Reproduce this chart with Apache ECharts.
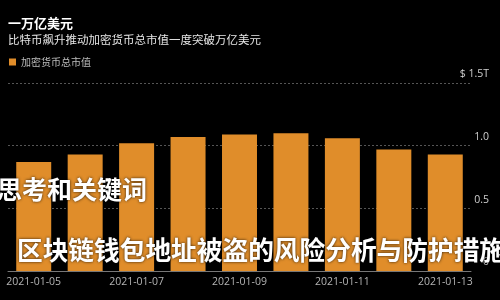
<!DOCTYPE html>
<html>
<head>
<meta charset="utf-8">
<script src="https://cdn.jsdelivr.net/npm/echarts@6/dist/echarts.min.js"></script>
<style>
html,body{margin:0;padding:0;background:#000;}
#chart{width:500px;height:300px;}
</style>
</head>
<body>
<div id="chart"></div>
<script>
const titleText = '一万亿美元';
const subtitleText = '比特币飙升推动加密货币总市值一度突破万亿美元';
const seriesName = '加密货币总市值';
const categories = ['2021-01-05','2021-01-06','2021-01-07','2021-01-08','2021-01-09','2021-01-10','2021-01-11','2021-01-12','2021-01-13'];
const marketCap = [0.87, 0.93, 1.02, 1.07, 1.09, 1.10, 1.06, 0.97, 0.93];
const yTicks = [0, 0.5, 1.0, 1.5];
const yTickLabels = ['0', '0.5', '1.0', '$ 1.5T'];
const overlayLine1 = '思考和关键词';
const overlayLine2 = '区块链钱包地址被盗的风险分析与防护措施';

const chart = echarts.init(document.getElementById('chart'), null, {renderer: 'canvas'});
const FONT = '"Noto Sans CJK SC", "Noto Sans", sans-serif';
const ORANGE = '#E08D2A';

chart.setOption({
  backgroundColor: '#000',
  animation: false,
  title: {
    text: titleText,
    subtext: subtitleText,
    left: 3,
    top: 12,
    itemGap: 4,
    textStyle: {color: '#fff', fontSize: 13, fontWeight: 'bold', fontFamily: FONT},
    subtextStyle: {color: '#e6e6e6', fontSize: 11.5, fontFamily: FONT}
  },
  legend: {
    left: 4,
    top: 52,
    icon: 'rect',
    itemWidth: 7,
    itemHeight: 7,
    itemGap: 6,
    textStyle: {color: '#bdbdbd', fontSize: 10, fontFamily: FONT},
    data: [seriesName]
  },
  grid: {left: 8, right: 29, top: 83, bottom: 29},
  xAxis: {
    type: 'category',
    data: categories,
    axisTick: {show: false},
    axisLine: {lineStyle: {color: '#777', width: 1}},
    axisLabel: {color: '#b5b5b5', fontSize: 10.5, interval: 1, margin: 6, fontFamily: '"Open Sans", sans-serif'}
  },
  yAxis: {
    type: 'value',
    position: 'right',
    min: 0,
    max: 1.5,
    interval: 0.5,
    axisLine: {show: false},
    axisTick: {show: false},
    splitLine: {lineStyle: {color: '#555', type: [2, 2], width: 1}},
    axisLabel: {
      color: '#cfcfcf',
      fontSize: 10.5,
      align: 'right',
      verticalAlign: 'bottom',
      margin: 18,
      padding: [0, 0, 3, 0],
      fontFamily: '"Open Sans", sans-serif',
      formatter: function (v) {
        const i = yTicks.findIndex(t => Math.abs(t - v) < 1e-9);
        return i >= 0 ? yTickLabels[i] : '';
      }
    }
  },
  series: [{
    name: seriesName,
    type: 'bar',
    data: marketCap,
    barWidth: '68%',
    itemStyle: {color: ORANGE}
  }],
  graphic: [
    {
      type: 'text',
      left: -3,
      top: 177,
      z: 100,
      style: {
        text: overlayLine1,
        fill: '#fff',
        font: 'bold 25px "Noto Sans CJK SC"',
        textShadowColor: 'rgba(0,0,0,0.8)',
        textShadowBlur: 3
      }
    },
    {
      type: 'text',
      left: 17,
      top: 237,
      z: 100,
      style: {
        text: overlayLine2,
        fill: '#fff',
        font: 'bold 25.7px "Noto Sans CJK SC"',
        textShadowColor: 'rgba(0,0,0,0.8)',
        textShadowBlur: 3
      }
    }
  ]
});
</script>
</body>
</html>
